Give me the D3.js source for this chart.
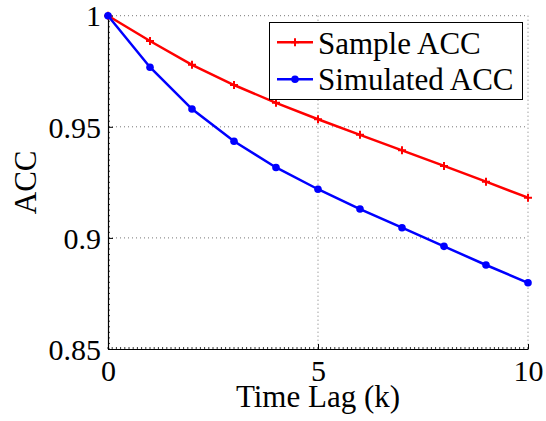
<!DOCTYPE html>
<html>
<head>
<meta charset="utf-8">
<script src="https://cdn.jsdelivr.net/npm/d3@7"></script>
<style>
  body { margin: 0; background: #fff; }
  text { font-family: "Liberation Serif", "Times New Roman", serif; fill: #000; }
</style>
</head>
<body>
<svg id="chart" width="546" height="421"></svg>
<script>
// data
let lags      = [0, 1, 2, 3, 4, 5, 6, 7, 8, 9, 10];
let sampleAcc = [1, 0.9886, 0.9779, 0.9688, 0.9608, 0.9534, 0.9464, 0.9394, 0.9324, 0.9253, 0.9181];
let simAcc    = [1, 0.9768, 0.9580, 0.9435, 0.9317, 0.9219, 0.9130, 0.9046, 0.8962, 0.8878, 0.8798];
let xTicks    = [0, 5, 10];
let yTicks    = [0.85, 0.9, 0.95, 1];

let plotL = 108, plotR = 528, plotT = 15.7, plotB = 349;

let svg = d3.select("#chart");

let x = d3.scaleLinear().domain([0, 10]).range([plotL, plotR]);
let y = d3.scaleLinear().domain([0.85, 1]).range([plotB, plotT]);

// dotted grid
let grid = svg.append("g")
              .attr("stroke", "#777")
              .attr("stroke-width", 1)
              .attr("stroke-dasharray", "1,3");
grid.selectAll("line.gx")
    .data(xTicks.filter(d => d > 0))
    .enter().append("line")
    .attr("x1", d => x(d)).attr("x2", d => x(d))
    .attr("y1", plotT).attr("y2", plotB);
grid.selectAll("line.gy")
    .data(yTicks.filter(d => d > 0.85))
    .enter().append("line")
    .attr("x1", plotL).attr("x2", plotR)
    .attr("y1", d => y(d)).attr("y2", d => y(d));

// minor ticks
let minor = svg.append("g").attr("stroke", "#000").attr("stroke-width", 0.8);
minor.selectAll("line.mx")
     .data(d3.range(0, 10.001, 0.1))
     .enter().append("line")
     .attr("x1", d => x(d)).attr("x2", d => x(d))
     .attr("y1", plotB).attr("y2", plotB - 2);
minor.selectAll("line.my")
     .data(d3.range(0.85, 1.0001, 0.0025))
     .enter().append("line")
     .attr("x1", plotL).attr("x2", plotL + 2)
     .attr("y1", d => y(d)).attr("y2", d => y(d));

// axes
let xAxis = d3.axisBottom(x).tickValues(xTicks).tickSizeInner(-5).tickSizeOuter(0).tickPadding(11);
let yAxis = d3.axisLeft(y).tickValues(yTicks).tickSizeInner(-5).tickSizeOuter(0).tickPadding(7)
              .tickFormat(d3.format("~g"));

let gx = svg.append("g").attr("transform", "translate(0," + plotB + ")").call(xAxis);
let gy = svg.append("g").attr("transform", "translate(" + plotL + ",0)").call(yAxis);

[gx, gy].forEach(function (g) {
    g.select(".domain").attr("stroke", "#000").attr("stroke-width", 1.2);
    g.selectAll(".tick line").attr("stroke", "#000");
    g.selectAll(".tick text")
     .style("font-family", "'Liberation Serif', 'Times New Roman', serif")
     .style("font-size", "30px")
     .attr("fill", "#000");
});
gx.selectAll(".tick text").attr("dy", "0.71em");
gy.selectAll(".tick text").attr("dy", "0.34em");

// axis labels
svg.append("text")
   .attr("x", (plotL + plotR) / 2)
   .attr("y", 407)
   .attr("text-anchor", "middle")
   .style("font-size", "31px")
   .text("Time Lag (k)");
svg.append("text")
   .attr("transform", "translate(36," + ((plotT + plotB) / 2) + ") rotate(-90)")
   .attr("text-anchor", "middle")
   .style("font-size", "31px")
   .text("ACC");

// lines
let line = d3.line().x((d, i) => x(lags[i])).y(d => y(d));

svg.append("path")
   .attr("d", line(sampleAcc))
   .attr("fill", "none")
   .attr("stroke", "#ff0000")
   .attr("stroke-width", 2.5);
svg.append("path")
   .attr("d", line(simAcc))
   .attr("fill", "none")
   .attr("stroke", "#0000ff")
   .attr("stroke-width", 2.5);

// markers
function plus(g, cx, cy, s) {
    g.append("path")
     .attr("d", "M" + (cx - s) + "," + cy + "H" + (cx + s) + "M" + cx + "," + (cy - s) + "V" + (cy + s))
     .attr("stroke", "#ff0000")
     .attr("stroke-width", 2);
}
let mk = svg.append("g");
sampleAcc.forEach(function (d, i) { plus(mk, x(lags[i]), y(d), 4); });
mk.selectAll("circle")
  .data(simAcc)
  .enter().append("circle")
  .attr("cx", (d, i) => x(lags[i]))
  .attr("cy", d => y(d))
  .attr("r", 3.8)
  .attr("fill", "#0000ff");

// legend
let lg = svg.append("g");
lg.append("rect")
  .attr("x", 269.5).attr("y", 22.5)
  .attr("width", 253).attr("height", 77)
  .attr("fill", "#fff")
  .attr("stroke", "#000")
  .attr("stroke-width", 1);
lg.append("line")
  .attr("x1", 277).attr("x2", 313).attr("y1", 42.3).attr("y2", 42.3)
  .attr("stroke", "#ff0000").attr("stroke-width", 2.5);
plus(lg, 295, 42.3, 4);
lg.append("line")
  .attr("x1", 277).attr("x2", 313).attr("y1", 79.3).attr("y2", 79.3)
  .attr("stroke", "#0000ff").attr("stroke-width", 2.5);
lg.append("circle").attr("cx", 295).attr("cy", 79.3).attr("r", 3.8).attr("fill", "#0000ff");
lg.append("text").attr("x", 318).attr("y", 53.5).style("font-size", "31px").text("Sample ACC");
lg.append("text").attr("x", 318).attr("y", 89.5).style("font-size", "31px").text("Simulated ACC");
</script>
</body>
</html>
